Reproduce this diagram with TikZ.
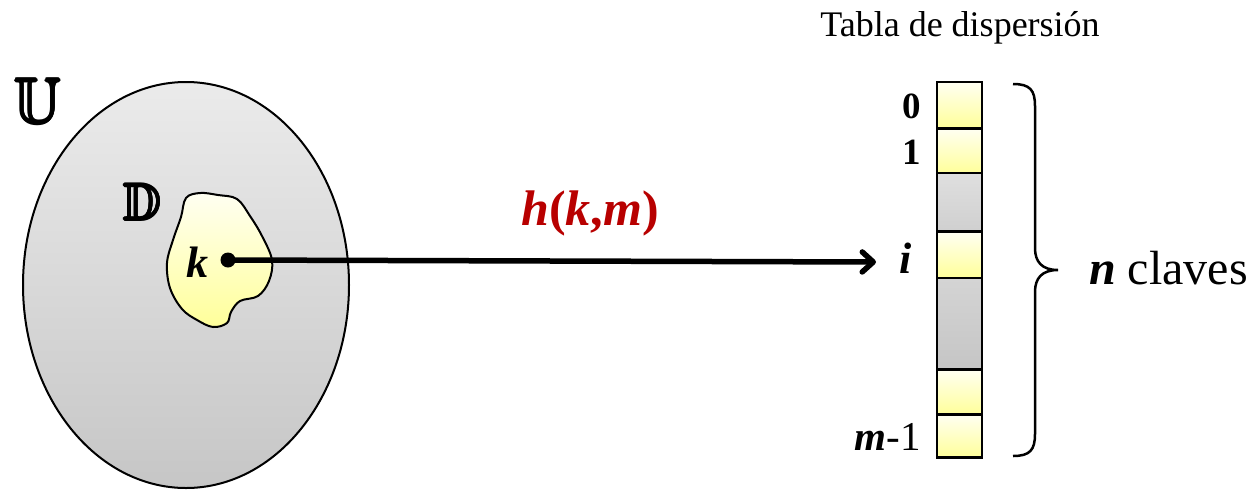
\documentclass[tikz,border=0pt]{standalone}
\usepackage{amssymb}
\usepackage{fontspec}
\setmainfont{Liberation Serif}
\usetikzlibrary{arrows.meta,shapes.geometric,calc}
\definecolor{hred}{HTML}{B80000}
\definecolor{ytop}{HTML}{FFFFF2}
\definecolor{ybot}{HTML}{FFFF99}
\definecolor{gtop}{HTML}{EBEBEB}
\definecolor{gbot}{HTML}{C6C6C6}
\definecolor{gmid}{HTML}{D4D4D4}
\tikzset{
  ycell/.style={draw, line width=2.5pt, top color=ytop, bottom color=ybot, minimum width=45pt, inner sep=0pt},
  gcell/.style={draw, line width=2.5pt, top color=#1, bottom color=#1!93!black, minimum width=45pt, inner sep=0pt},
  idx/.style={inner sep=0pt, anchor=east},
  bbsym/.style={inner sep=0pt},
}
\newcommand{\heavybb}[2]{%
  \foreach \dx/\dy in {1.1/0,-1.1/0,0/1.1,0/-1.1,0.8/0.8,-0.8/0.8,0.8/-0.8,-0.8/-0.8}{
    \node[bbsym] at ($(#1)+(\dx,\dy)$) {#2};}}
\begin{document}
\begin{tikzpicture}[x=1pt,y=-1pt]
\useasboundingbox (0,0) rectangle (1254,491);
% universe
\node[draw, line width=2pt, ellipse, minimum width=326pt, minimum height=406pt, inner sep=0pt,
      top color=gtop, bottom color=gbot] (U) at (186,285) {};
\node[bbsym] (Ulab) at (38,101) {\fontsize{64}{70}\selectfont$\mathbb{U}$};
\heavybb{Ulab}{\fontsize{64}{70}\selectfont$\mathbb{U}$}
\node[bbsym] (Dlab) at (142,202) {\fontsize{52}{60}\selectfont$\mathbb{D}$};
\heavybb{Dlab}{\fontsize{52}{60}\selectfont$\mathbb{D}$}
% blob D
\draw[line width=2pt, top color=ytop, bottom color=ybot]
  plot[smooth cycle, tension=0.6] coordinates {
   (186,198) (200,193) (218,195) (237,199) (250,216) (262,236) (272,260)
   (269,281) (258,296) (240,301) (231,312) (227,323) (213,327) (197,320)
   (182,309) (170,288) (167,263) (173,240) (181,217)};
\node[inner sep=0pt] (klab) at (197,262) {\fontsize{44}{50}\selectfont\textbf{\textit{k}}};
\node[circle, fill=black, inner sep=0pt, minimum size=15pt] (kdot) at (228,260) {};
% table
\node[ycell, minimum height=46pt] (c0) at (959.5,105) {};
\node[ycell, minimum height=45pt] (c1) at (959.5,151) {};
\node[gcell=gtop!95!black, minimum height=58pt] (c2) at (959.5,202) {};
\node[ycell, minimum height=46pt] (c3) at (959.5,255) {};
\node[gcell=gmid, minimum height=92pt] (c4) at (959.5,324) {};
\node[ycell, minimum height=45pt] (c5) at (959.5,392) {};
\node[ycell, minimum height=43pt] (c6) at (959.5,436) {};
\node[idx] (l0) at (921,106) {\fontsize{37}{40}\selectfont\textbf{0}};
\node[idx] (l1) at (921,152) {\fontsize{37}{40}\selectfont\textbf{1}};
\node[idx] (li) at (912,258) {\fontsize{44}{50}\selectfont\textbf{\textit{i}}};
\node[idx] (lm) at (921,437) {\fontsize{41}{46}\selectfont\textbf{\textit{m}}-1};
\node[inner sep=0pt] (title) at (960,28) {\fontsize{36}{40}\selectfont Tabla de dispersión};
% arrow
\coordinate (aend) at (876,262);
\draw[line width=5.5pt, -{Straight Barb[length=11pt,width=20pt,line cap=round,line join=round]}]
  (kdot.center) -- (aend);
\node[inner sep=0pt, text=hred] (hlab) at (590,213) {\fontsize{50}{56}\selectfont\textbf{\textit{h}(\textit{k},\textit{m})}};
% brace
\coordinate (bt) at (1013,84);
\coordinate (bb) at (1013,456);
\coordinate (btip) at (1058,270);
\draw[line width=2.5pt]
  (bt) .. controls (1030,84) and (1035,90) .. (1035,106)
  -- (1035,248) .. controls (1035,262) and (1042,270) .. (btip)
  (btip) .. controls (1042,270) and (1035,278) .. (1035,292)
  -- (1035,434) .. controls (1035,450) and (1030,456) .. (bb);
\node[inner sep=0pt, anchor=west] (nlab) at (1089,268) {\fontsize{48}{54}\selectfont\textbf{\textit{n}} claves};
\end{tikzpicture}
\end{document}
